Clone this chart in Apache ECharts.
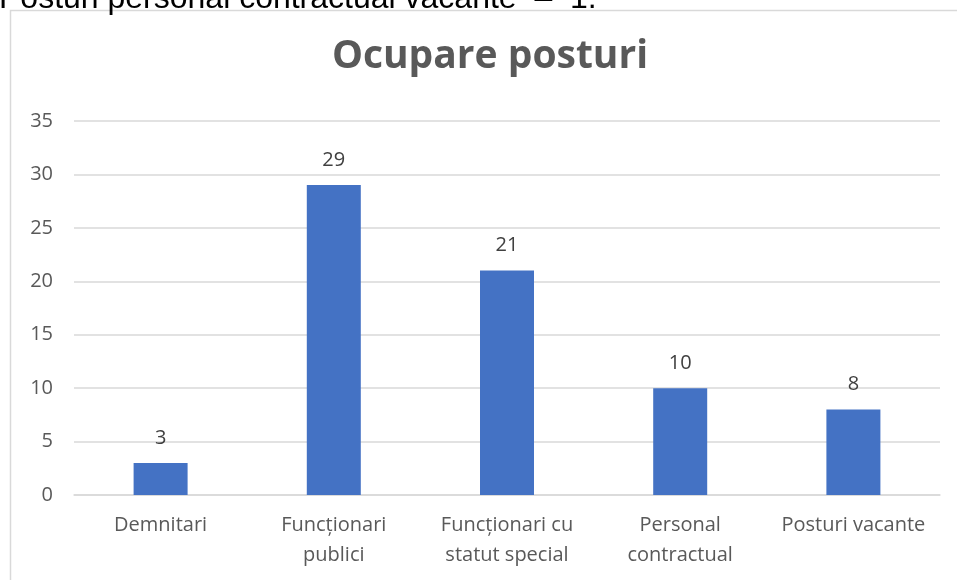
<!DOCTYPE html>
<html>
<head>
<meta charset="utf-8">
<script src="https://cdn.jsdelivr.net/npm/echarts@6/dist/echarts.min.js"></script>
<style>
  html, body { margin: 0; padding: 0; background: #fff; }
  #chart { width: 957px; height: 580px; }
</style>
</head>
<body>
<div id="chart"></div>
<script>
  // date grafic
  var categorii = ['Demnitari', 'Funcționari\npublici', 'Funcționari cu\nstatut special', 'Personal\ncontractual', 'Posturi vacante'];
  var valori = [3, 29, 21, 10, 8];
  var titlu = 'Ocupare posturi';
  var textSus = 'Posturi personal contractual vacante  –  1.';

  var chart = echarts.init(document.getElementById('chart'));
  var font = '"Open Sans", "Noto Sans", sans-serif';

  chart.setOption({
    animation: false,
    title: {
      text: titlu,
      left: 485,
      top: 32,
      textAlign: 'center',
      textStyle: { fontFamily: font, fontSize: 39, fontWeight: 'bold', color: '#595959' }
    },
    graphic: [
      {
        type: 'rect',
        shape: { x: 10.5, y: 10.5, width: 1000, height: 700 },
        style: { fill: 'none', stroke: '#d9d9d9', lineWidth: 1.5 },
        z: -1
      },
      {
        // rand de text din document, taiat sus
        type: 'text',
        x: -1,
        y: 15,
        style: {
          text: textSus,
          font: '32px "Liberation Sans", Arial, sans-serif',
          fill: '#000',
          align: 'left',
          verticalAlign: 'bottom'
        }
      }
    ],
    grid: { left: 74, right: 17, top: 121, bottom: 85, containLabel: false },
    xAxis: {
      type: 'category',
      data: categorii,
      axisTick: { show: false },
      axisLine: { lineStyle: { color: '#d9d9d9', width: 1.5 } },
      axisLabel: { fontFamily: font, fontSize: 20, color: '#595959', margin: 15, lineHeight: 30, interval: 0 }
    },
    yAxis: {
      type: 'value',
      min: 0,
      max: 35,
      interval: 5,
      axisLine: { show: false },
      axisTick: { show: false },
      splitLine: { lineStyle: { color: '#d9d9d9', width: 1.5 } },
      axisLabel: { fontFamily: font, fontSize: 20, color: '#595959', margin: 21 }
    },
    series: [{
      type: 'bar',
      data: valori,
      barWidth: 54,
      itemStyle: { color: '#4472c4' },
      label: {
        show: true,
        position: 'top',
        distance: 15,
        fontFamily: font,
        fontSize: 20,
        color: '#404040'
      }
    }]
  });
</script>
</body>
</html>
